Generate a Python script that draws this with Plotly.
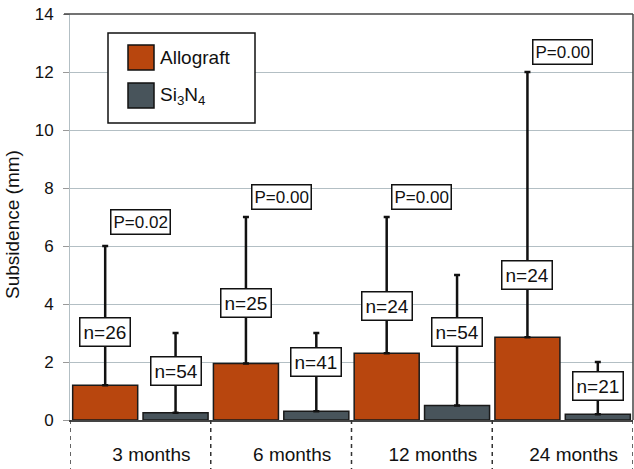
import plotly.graph_objects as go

categories = ["3 months", "6 months", "12 months", "24 months"]
allograft_mean = [1.2, 1.95, 2.3, 2.85]
allograft_max = [6, 7, 7, 12]
si3n4_mean = [0.25, 0.3, 0.5, 0.2]
si3n4_max = [3, 3, 5, 2]
allograft_n = [26, 25, 24, 24]
si3n4_n = [54, 41, 54, 21]
p_values = ["0.02", "0.00", "0.00", "0.00"]

# label placement (layout only)
allograft_n_y = [3.05, 4.03, 3.94, 5.0]
si3n4_n_y = [1.70, 2.0, 3.05, 1.16]
p_label_y = [6.83, 7.69, 7.69, 12.69]

ORANGE = "#B8460E"
SLATE = "#48545B"
FONT = "Arial, Liberation Sans, sans-serif"

W, H = 634, 469
ML, MR, MT, MB = 70, 1, 14, 49
PW, PH = W - ML - MR, H - MT - MB


def px(x):
    return (x - ML) / PW


def py(y):
    return (H - MB - y) / PH


fig = go.Figure()
fig.add_trace(go.Bar(
    x=categories, y=allograft_mean, name="Allograft",
    marker=dict(color=ORANGE, line=dict(color="#1a1a1a", width=1.5)),
    error_y=dict(type="data", symmetric=False,
                 array=[t - v for t, v in zip(allograft_max, allograft_mean)],
                 arrayminus=[0] * 4, thickness=2.5, width=3, color="#111"),
    showlegend=False,
))
fig.add_trace(go.Bar(
    x=categories, y=si3n4_mean, name="Si<sub>3</sub>N<sub>4</sub>",
    marker=dict(color=SLATE, line=dict(color="#1a1a1a", width=1.5)),
    error_y=dict(type="data", symmetric=False,
                 array=[t - v for t, v in zip(si3n4_max, si3n4_mean)],
                 arrayminus=[0] * 4, thickness=2.5, width=3, color="#111"),
    showlegend=False,
))

annotations = []
box = dict(bgcolor="white", bordercolor="#111", borderwidth=1.5, showarrow=False,
           xref="x", yref="y")
for i in range(4):
    annotations.append(dict(x=i - 0.25, y=allograft_n_y[i], text=f"n={allograft_n[i]}",
                            font=dict(family=FONT, size=19, color="#111"), borderpad=3, **box))
    annotations.append(dict(x=i + 0.25, y=si3n4_n_y[i], text=f"n={si3n4_n[i]}",
                            font=dict(family=FONT, size=19, color="#111"), borderpad=3, **box))
    annotations.append(dict(x=i, y=p_label_y[i], text=f"P={p_values[i]}",
                            font=dict(family=FONT, size=17, color="#111"), borderpad=2, **box))

# legend (manual, to match large swatches)
annotations.append(dict(xref="paper", yref="paper", x=px(158), y=py(57.5), xanchor="left",
                        yanchor="middle", text="Allograft", showarrow=False,
                        font=dict(family=FONT, size=19, color="#111")))
annotations.append(dict(xref="paper", yref="paper", x=px(158), y=py(96), xanchor="left",
                        yanchor="middle", text="Si<sub>3</sub>N<sub>4</sub>", showarrow=False,
                        font=dict(family=FONT, size=19, color="#111")))
# y-axis title
annotations.append(dict(xref="paper", yref="paper", x=px(12), y=py(225), xanchor="center",
                        yanchor="middle", textangle=-90, text="Subsidence (mm)",
                        showarrow=False, font=dict(family=FONT, size=19, color="#111")))

shapes = [
    dict(type="rect", xref="paper", yref="paper", x0=px(108), x1=px(255), y0=py(123), y1=py(33),
         line=dict(color="#111", width=1.5), fillcolor="white", layer="above"),
    dict(type="rect", xref="paper", yref="paper", x0=px(128), x1=px(154), y0=py(70), y1=py(45),
         line=dict(color="#111", width=1.5), fillcolor=ORANGE, layer="above"),
    dict(type="rect", xref="paper", yref="paper", x0=px(128), x1=px(154), y0=py(108), y1=py(83),
         line=dict(color="#111", width=1.5), fillcolor=SLATE, layer="above"),
    # frame top and right
    dict(type="line", xref="paper", yref="paper", x0=px(64), x1=1, y0=1, y1=1,
         line=dict(color="#444", width=1.5)),
    dict(type="line", xref="paper", yref="paper", x0=1, x1=1, y0=0, y1=1,
         line=dict(color="#444", width=1.5)),
]
# dashed category separators below the axis
for b in [-0.5, 0.5, 1.5, 2.5, 3.5]:
    shapes.append(dict(type="line", xref="x", yref="paper", x0=b, x1=b, y0=0,
                       y1=-MB / PH, line=dict(color="#333", width=1.5, dash="4px,4px")))

fig.update_layout(
    width=W, height=H,
    margin=dict(l=ML, r=MR, t=MT, b=MB, pad=0),
    paper_bgcolor="white", plot_bgcolor="white",
    barmode="group", bargap=0.0, bargroupgap=0.076,
    font=dict(family=FONT, color="#222"),
    annotations=annotations,
    shapes=shapes,
)
fig.update_xaxes(
    type="category", range=[-0.5, 3.5], showgrid=False, ticks="",
    showline=True, linecolor="#444", linewidth=1.5,
    tickfont=dict(family=FONT, size=19, color="#111"),
    ticklabelstandoff=16, ticklabelshift=11,
    fixedrange=True,
)
fig.update_yaxes(
    range=[0, 14], dtick=2, showgrid=True, gridcolor="#B3BFC4", gridwidth=1,
    zeroline=False, showline=True, linecolor="#B3BFC4", linewidth=1,
    ticks="outside", ticklen=6, tickcolor="#999",
    ticklabelstandoff=6,
    tickfont=dict(family=FONT, size=17, color="#111"),
)

fig.write_html(
    "out.html",
    config={"displayModeBar": False},
    post_script="document.body.style.margin='0';document.body.style.overflow='hidden';",
)
